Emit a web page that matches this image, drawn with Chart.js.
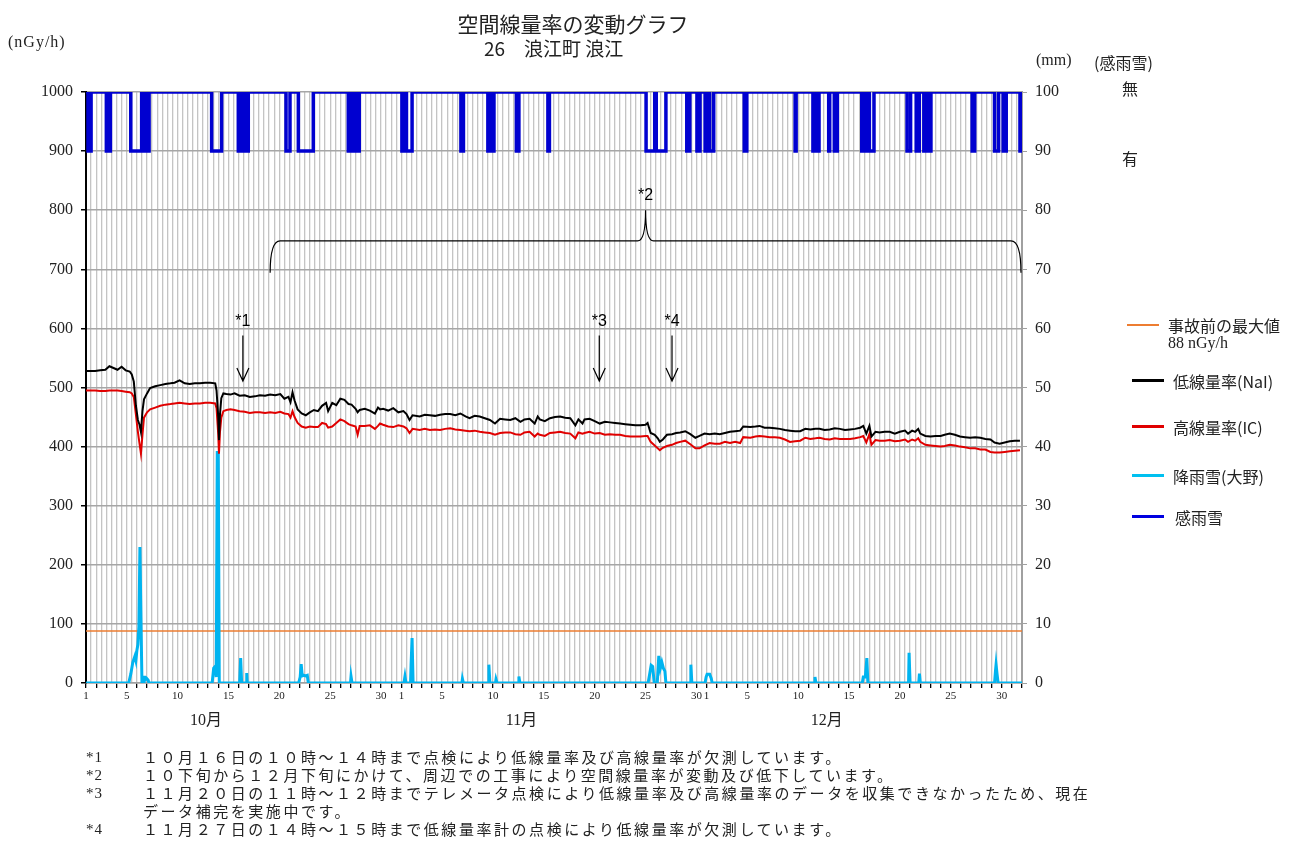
<!DOCTYPE html>
<html lang="ja">
<head>
<meta charset="utf-8">
<title>空間線量率の変動グラフ</title>
<script src="https://cdn.jsdelivr.net/npm/chart.js@4.4.1/dist/chart.umd.min.js"></script>
<style>
  body { margin: 0; background: #fff; }
  #wrap { position: relative; width: 1292px; height: 841px; color: #222;
          font-family: 'Liberation Serif', 'Noto Sans CJK JP', serif; }
  #wrap .t { position: absolute; white-space: nowrap; }
  canvas { position: absolute; left: 0; top: 0; }
  .jp { font-family: 'Noto Sans CJK JP', sans-serif; }
  .key { position: absolute; height: 3px; width: 32px; }
  .lg { font-size: 16px; }
  .fn { font-size: 15px; letter-spacing: 2.55px; line-height: 18px; }
</style>
</head>
<body>
<div id="wrap">
  <canvas id="doseChart" width="1292" height="841"></canvas>

  <div class="t jp" style="left:373px; top:8px; width:400px; text-align:center; font-size:21px;">空間線量率の変動グラフ</div>
  <div class="t jp" style="left:484px; top:34px; font-size:19px;">26　浪江町 浪江</div>
  <div class="t" style="left:8px; top:33px; font-size:16px; letter-spacing:1px;">(nGy/h)</div>
  <div class="t" style="left:1036px; top:51px; font-size:16px;">(mm)</div>
  <div class="t jp" style="left:1094px; top:50px; font-size:16px;">(感雨雪)</div>
  <div class="t jp" style="left:1122px; top:76px; font-size:16px;">無</div>
  <div class="t jp" style="left:1122px; top:146px; font-size:16px;">有</div>

  <!-- legend -->
  <div class="key" style="left:1127px; top:324px; height:2px; background:#ED7D31;"></div>
  <div class="t jp lg" style="left:1168px; top:313px;">事故前の最大値</div>
  <div class="t lg" style="left:1168px; top:334px;">88 nGy/h</div>
  <div class="key" style="left:1132px; top:379px; background:#000;"></div>
  <div class="t jp lg" style="left:1173px; top:369px;">低線量率(NaI)</div>
  <div class="key" style="left:1132px; top:425px; background:#e00000;"></div>
  <div class="t jp lg" style="left:1173px; top:415px;">高線量率(IC)</div>
  <div class="key" style="left:1132px; top:474px; background:#00c0f0;"></div>
  <div class="t jp lg" style="left:1173px; top:464px;">降雨雪(大野)</div>
  <div class="key" style="left:1132px; top:515px; background:#0000e0;"></div>
  <div class="t jp lg" style="left:1175px; top:505px;">感雨雪</div>

  <!-- footnotes -->
  <div class="t fn" style="left:86px; top:748px; letter-spacing:1px;">*1<br>*2<br>*3<br><br>*4</div>
  <div class="t jp fn" style="left:143px; top:748px;">１０月１６日の１０時～１４時まで点検により低線量率及び高線量率が欠測しています。<br>１０下旬から１２月下旬にかけて、周辺での工事により空間線量率が変動及び低下しています。<br>１１月２０日の１１時～１２時までテレメータ点検により低線量率及び高線量率のデータを収集できなかったため、現在<br>データ補完を実施中です。<br>１１月２７日の１４時～１５時まで低線量率計の点検により低線量率が欠測しています。</div>
</div>

<script>
// time axis: days since 1 Oct 00:00
const monthNames = ['10月', '11月', '12月'];
const monthStart = [0, 31, 61];
const monthDays = [31, 30, 31];
const dayLabels = [1, 5, 10, 15, 20, 25, 30];

// dose rate readings (nGy/h)
const doseDay = [0.0, 0.9, 1.4, 1.9, 2.3, 2.7, 3.1, 3.5, 3.9, 4.3, 4.5, 4.7, 4.9, 5.1, 5.26, 5.4, 5.55, 5.7, 6.0, 6.3,
  6.8, 7.3, 7.8, 8.3, 8.7, 9.2, 9.7, 10.2, 10.7, 11.2, 11.7, 12.2, 12.7, 12.83, 13.0, 13.07, 13.17, 13.3, 13.5, 13.8,
  14.2, 14.6, 15.1, 15.6, 16.1, 16.6, 17.1, 17.6, 18.1, 18.6, 19.1, 19.5, 19.9, 20.1, 20.3, 20.5, 20.8, 21.2, 21.6, 22.0,
  22.4, 22.8, 23.2, 23.6, 23.8, 24.2, 24.6, 25.0, 25.4, 25.8, 26.1, 26.5, 26.7, 26.9, 27.4, 27.9, 28.4, 28.7, 28.9, 29.2,
  29.7, 30.2, 30.7, 31.2, 31.5, 31.8, 32.1, 32.8, 33.3, 33.8, 34.3, 34.8, 35.3, 35.8, 36.3, 36.8, 37.3, 37.7, 38.2, 38.7,
  39.2, 39.7, 40.2, 40.7, 41.2, 41.7, 42.2, 42.7, 43.1, 43.6, 44.1, 44.4, 44.6, 45.1, 45.6, 46.1, 46.6, 47.1, 47.6, 48.1,
  48.4, 48.8, 49.0, 49.5, 50.0, 50.5, 51.0, 51.5, 52.0, 52.5, 53.0, 53.5, 54.0, 54.5, 55.0, 55.2, 55.5, 55.9, 56.2, 56.4,
  56.7, 57.1, 57.6, 58.0, 58.4, 58.9, 59.4, 59.9, 60.3, 60.8, 61.3, 61.8, 62.3, 62.8, 63.3, 63.8, 64.3, 64.6, 65.3, 65.8,
  66.2, 66.7, 67.2, 67.7, 68.2, 68.7, 69.2, 69.7, 70.2, 70.7, 71.2, 71.7, 72.1, 72.6, 73.1, 73.6, 74.1, 74.6, 75.1, 75.6,
  76.1, 76.4, 76.7, 77.0, 77.2, 77.6, 78.0, 78.5, 79.0, 79.5, 80.0, 80.5, 80.8, 81.2, 81.5, 81.8, 82.0, 82.5, 83.0, 83.5,
  84.0, 84.4, 84.9, 85.4, 85.9, 86.4, 86.9, 87.4, 87.9, 88.4, 88.9, 89.3, 89.8, 90.3, 90.8, 91.3, 91.8];
const naiVals = [528, 528, 529, 530, 536, 533, 530, 535, 529, 527, 522, 510, 470, 445, 437, 425, 460, 480, 490, 499,
  502, 504, 506, 507, 508, 512, 507, 506, 507, 507, 508, 508, 507, 495, 450, 411, 455, 482, 490, 489,
  488, 490, 486, 487, 484, 485, 487, 486, 488, 487, 489, 481, 484, 475, 492, 478, 463, 456, 453, 458,
  462, 460, 469, 474, 460, 474, 470, 481, 479, 472, 471, 464, 458, 462, 464, 461, 456, 466, 463, 464,
  461, 465, 458, 460, 455, 445, 453, 451, 454, 453, 452, 454, 455, 455, 453, 456, 451, 448, 452, 451,
  448, 445, 439, 447, 446, 445, 448, 442, 446, 447, 439, 451, 446, 443, 448, 450, 451, 449, 448, 436,
  446, 439, 446, 447, 443, 439, 442, 441, 440, 439, 438, 437, 436, 436, 437, 440, 423, 420, 414, 408,
  412, 420, 421, 423, 424, 426, 421, 415, 418, 422, 421, 422, 421, 423, 425, 426, 427, 434, 433, 434,
  435, 432, 432, 431, 430, 428, 427, 426, 426, 430, 429, 430, 430, 428, 429, 431, 430, 428, 429, 430,
  432, 435, 422, 435, 417, 425, 424, 425, 425, 422, 425, 427, 422, 427, 425, 430, 422, 418, 417, 418,
  418, 420, 422, 420, 417, 416, 415, 416, 415, 413, 412, 407, 405, 407, 409, 410, 410];
const icVals = [495, 495, 494, 494, 495, 495, 495, 494, 493, 492, 490, 484, 455, 425, 405, 388, 420, 449, 458, 463,
  466, 469, 471, 472, 473, 474, 473, 472, 473, 473, 474, 474, 473, 465, 420, 388, 425, 449, 460, 462,
  463, 462, 460, 459, 457, 458, 458, 457, 458, 457, 459, 456, 455, 449, 460, 450, 440, 434, 432, 434,
  433, 433, 440, 438, 432, 434, 440, 446, 443, 438, 436, 434, 420, 435, 435, 436, 430, 435, 439, 437,
  434, 433, 436, 434, 431, 423, 430, 428, 430, 428, 429, 428, 430, 431, 429, 428, 427, 426, 427, 425,
  424, 423, 420, 423, 424, 424, 421, 420, 424, 425, 417, 422, 420, 418, 423, 424, 425, 423, 422, 414,
  424, 422, 423, 425, 422, 423, 420, 421, 420, 420, 418, 417, 417, 417, 418, 418, 408, 402, 397, 394,
  398, 401, 403, 406, 408, 410, 404, 397, 397, 402, 406, 405, 405, 408, 406, 408, 406, 416, 415, 417,
  418, 417, 416, 416, 415, 412, 408, 409, 410, 415, 413, 414, 415, 413, 412, 414, 413, 413, 413, 414,
  416, 418, 407, 421, 403, 411, 410, 410, 411, 409, 410, 412, 408, 412, 410, 414, 408, 403, 402, 401,
  400, 401, 403, 402, 400, 399, 397, 397, 395, 395, 391, 390, 390, 391, 392, 393, 394];

// rain / snow at Ono (mm)
const rainDay = [0, 4.2, 4.4, 4.6, 4.8, 4.9, 5.0, 5.1, 5.2, 5.3, 5.4, 5.5, 5.7, 5.75, 5.8, 5.95, 6.1, 6.2,
  12.4, 12.55, 12.7, 12.8, 12.9, 13.0, 13.1, 15.1, 15.2, 15.3, 15.75, 15.8, 15.85,
  20.9, 21.05, 21.15, 21.25, 21.4, 21.6, 21.75, 21.85, 26.0, 26.05, 26.15, 31.25, 31.35, 31.45,
  31.9, 31.95, 32.05, 32.15, 36.95, 37.0, 37.1, 39.55, 39.6, 39.7, 40.25, 40.3, 40.4, 42.5, 42.55, 42.65,
  55.25, 55.4, 55.55, 55.7, 55.85, 56.15, 56.3, 56.45, 56.6, 56.75, 56.9, 57.0, 59.4, 59.45, 59.55,
  60.85, 60.95, 61.05, 61.3, 61.45, 61.55, 71.6, 71.65, 71.75, 76.3, 76.4, 76.6, 76.75, 76.85,
  80.85, 80.9, 81.0, 81.85, 81.92, 82.0, 89.3, 89.4, 89.45, 89.55, 89.65, 92];
const rainMm = [0, 0, 1.5, 3.5, 4.5, 3.8, 5.5, 6.5, 9.5, 23, 11, 0, 0, 1.2, 0.5, 0.8, 0.5, 0,
  0, 2.5, 2.8, 1, 39, 39, 0, 0, 4.2, 0, 0, 1.7, 0,
  0, 1, 3.2, 1.2, 1.3, 1.2, 1.3, 0, 0, 1.1, 0, 0, 1.1, 0,
  0, 3, 7.6, 0, 0, 0.7, 0, 0, 3.1, 0, 0, 0.6, 0, 0, 1.1, 0,
  0, 1.5, 3, 2.8, 0, 0, 4.6, 2.5, 3.5, 2.5, 2, 0, 0, 3.1, 0,
  0, 1, 1.5, 1.5, 0.8, 0, 0, 1, 0, 0, 1, 1, 4.2, 0,
  0, 5.1, 0, 0, 1.6, 0, 0, 2.2, 3.1, 1.5, 0, 0];

// rain sensor "on" periods [start, end] in days
const senseOn = [[0.2, 0.5], [2.0, 2.15], [2.25, 2.4], [4.4, 5.47], [5.55, 5.7], [5.8, 5.95], [6.02, 6.2],
  [12.35, 13.33], [14.97, 15.15], [15.25, 15.5], [15.73, 15.95], [19.66, 20.05], [20.87, 22.34],
  [25.78, 25.95], [26.02, 26.21], [26.54, 26.86], [31.05, 31.25], [31.5, 32.05], [36.85, 37.1],
  [39.5, 39.75], [39.85, 40.1], [42.3, 42.55], [45.4, 45.55], [55.05, 55.9], [56.05, 57.0],
  [59.05, 59.35], [60.05, 60.35], [60.85, 61.1], [61.3, 61.7], [64.7, 64.95], [69.7, 69.8],
  [71.45, 71.6], [71.75, 72.05], [73.0, 73.1], [73.55, 73.85], [76.25, 76.5], [76.6, 76.85],
  [77.0, 77.45], [80.7, 81.05], [81.6, 81.9], [82.35, 82.55], [82.75, 83.05], [87.1, 87.35],
  [89.3, 89.7], [90.15, 90.45], [91.8, 92]];

const preAccidentMax = 88;
const arrowNotes = [['*1', 15.42], ['*3', 50.45], ['*4', 57.6]];
const braceNote = ['*2', 18.1, 55.0, 91.9];

function pairs(xs, ys) {
  return xs.map((v, i) => ({ x: v, y: ys[i] }));
}

function senseData() {
  const pts = [{ x: 0, y: 100 }];
  senseOn.forEach(([s, e]) => {
    pts.push({ x: s, y: 100 }, { x: s, y: 90 }, { x: e, y: 90 }, { x: e, y: 100 });
  });
  pts.push({ x: 92, y: 100 });
  return pts;
}

function dayLabel(v) {
  if (v % 1 !== 0) return '';
  for (let m = 0; m < monthStart.length; m++) {
    const d = v - monthStart[m] + 1;
    if (d >= 1 && d <= monthDays[m]) return dayLabels.includes(d) ? String(d) : '';
  }
  return '';
}

const notesPlugin = {
  id: 'notes',
  afterDatasetsDraw(chart) {
    const { ctx, scales: { x, y } } = chart;
    ctx.save();
    ctx.strokeStyle = '#000';
    ctx.fillStyle = '#000';
    ctx.lineWidth = 1.2;
    ctx.font = '16px "Liberation Sans", sans-serif';
    ctx.textAlign = 'center';
    ctx.textBaseline = 'middle';

    arrowNotes.forEach(([lab, d]) => {
      const px = x.getPixelForValue(d);
      const top = y.getPixelForValue(588);
      const tip = y.getPixelForValue(511);
      ctx.beginPath();
      ctx.moveTo(px, top);
      ctx.lineTo(px, tip);
      ctx.moveTo(px - 6, tip - 13);
      ctx.lineTo(px, tip);
      ctx.lineTo(px + 6, tip - 13);
      ctx.stroke();
      ctx.fillText(lab, px, y.getPixelForValue(612));
    });

    const [lab, d0, dm, d1] = braceNote;
    const x0 = x.getPixelForValue(d0), xm = x.getPixelForValue(dm), x1 = x.getPixelForValue(d1);
    const yEnd = y.getPixelForValue(694), yMid = y.getPixelForValue(748), yPeak = y.getPixelForValue(800);
    ctx.beginPath();
    ctx.moveTo(x0, yEnd);
    ctx.quadraticCurveTo(x0, yMid, x0 + 10, yMid);
    ctx.lineTo(xm - 8, yMid);
    ctx.quadraticCurveTo(xm, yMid, xm, yPeak);
    ctx.quadraticCurveTo(xm, yMid, xm + 8, yMid);
    ctx.lineTo(x1 - 10, yMid);
    ctx.quadraticCurveTo(x1, yMid, x1, yEnd);
    ctx.stroke();
    ctx.fillText(lab, xm, y.getPixelForValue(824));

    // month names under the day ticks
    ctx.font = '16px "Liberation Serif", "Noto Sans CJK JP", serif';
    ctx.fillStyle = '#222';
    monthNames.forEach((name, i) => {
      ctx.fillText(name, x.getPixelForValue(monthStart[i] + 11.8), chart.chartArea.bottom + 38);
    });
    ctx.restore();
  }
};

Chart.defaults.font.family = '"Liberation Serif", "Noto Sans CJK JP", serif';
Chart.defaults.color = '#222';

new Chart(document.getElementById('doseChart').getContext('2d'), {
  type: 'line',
  data: {
    datasets: [
      { label: '低線量率(NaI)', data: pairs(doseDay, naiVals), yAxisID: 'y',
        borderColor: '#000000', borderWidth: 2 },
      { label: '高線量率(IC)', data: pairs(doseDay, icVals), yAxisID: 'y',
        borderColor: '#e00000', borderWidth: 2 },
      { label: '降雨雪(大野)', data: pairs(rainDay, rainMm), yAxisID: 'y2',
        borderColor: '#00b4f0', borderWidth: 3 },
      { label: '感雨雪', data: senseData(), yAxisID: 'y2',
        borderColor: '#0000d0', borderWidth: 3.5 },
      { label: '事故前の最大値', data: [{ x: 0, y: preAccidentMax }, { x: 92, y: preAccidentMax }], yAxisID: 'y',
        borderColor: '#ED7D31', borderWidth: 1.5 }
    ]
  },
  options: {
    responsive: false,
    animation: false,
    events: [],
    layout: { padding: { top: 92, left: 0, right: 0, bottom: 0 } },
    elements: { point: { radius: 0 }, line: { tension: 0, fill: false } },
    plugins: { legend: { display: false }, tooltip: { enabled: false } },
    scales: {
      x: {
        type: 'linear',
        min: 0,
        max: 92,
        afterFit(s) { s.height = 158; },
        grid: {
          color: '#c4c4c4',
          lineWidth: 1.3,
          tickLength: 5,
          tickColor: (c) => (c.tick && c.tick.value % 1 === 0 ? '#000' : 'rgba(0,0,0,0)')
        },
        border: { color: '#a0a0a0', width: 1.5 },
        ticks: {
          stepSize: 0.5,
          autoSkip: false,
          maxRotation: 0,
          minRotation: 0,
          padding: 2,
          font: { size: 11 },
          callback: (v) => dayLabel(v)
        }
      },
      y: {
        position: 'left',
        min: 0,
        max: 1000,
        afterFit(s) { s.width = 86; },
        grid: { color: '#a6a6a6', lineWidth: 1.5, tickLength: 5, tickColor: '#000' },
        border: { color: '#000', width: 2 },
        ticks: { stepSize: 100, padding: 8, font: { size: 16 }, callback: (v) => String(v) }
      },
      y2: {
        position: 'right',
        min: 0,
        max: 100,
        afterFit(s) { s.width = 270; },
        grid: { drawOnChartArea: false, tickLength: 5, tickColor: '#a0a0a0' },
        border: { color: '#a0a0a0', width: 2 },
        ticks: { stepSize: 10, padding: 8, font: { size: 16 }, callback: (v) => String(v) }
      }
    }
  },
  plugins: [notesPlugin]
});
</script>
</body>
</html>
